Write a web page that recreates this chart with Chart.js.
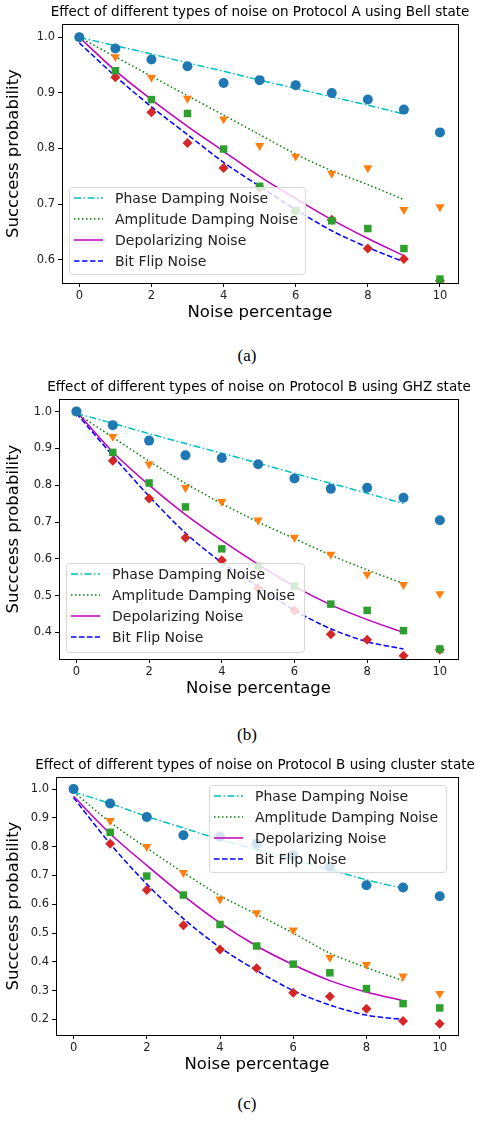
<!DOCTYPE html>
<html><head><meta charset="utf-8">
<script src="https://cdn.jsdelivr.net/npm/chart.js@4/dist/chart.umd.min.js"></script>
<style>
body{margin:0;background:#fff;width:494px;height:1129px;position:relative;overflow:hidden}
canvas{position:absolute;left:0}
.cap{position:absolute;width:494px;text-align:center;font-family:"Liberation Serif",serif;font-size:17px;color:#000}
</style></head><body>
<canvas id="cA" style="top:0"></canvas>
<div class="cap" style="top:346px">(a)</div>
<canvas id="cB" style="top:370px"></canvas>
<div class="cap" style="top:725px">(b)</div>
<canvas id="cC" style="top:745px"></canvas>
<div class="cap" style="top:1094px">(c)</div>
<script>
const noisePoints = [0,1,2,3,4,5,6,7,8,9,10];
const noiseFit = [0,1,2,3,4,5,6,7,8,9];
const seriesNames = ["Phase Damping Noise","Amplitude Damping Noise","Depolarizing Noise","Bit Flip Noise"];

// Chart (a) Protocol A, Bell state
const aPhasePts = [1.0,0.98,0.96,0.948,0.918,0.923,0.914,0.90,0.888,0.87,0.829];
const aAmpPts   = [1.0,0.965,0.928,0.89,0.853,0.805,0.786,0.755,0.765,0.69,0.695];
const aDepPts   = [1.0,0.94,0.888,0.863,0.799,0.732,0.688,0.67,0.656,0.62,0.565];
const aBitPts   = [1.0,0.928,0.865,0.81,0.765,0.73,0.688,0.672,0.62,0.601,0.562];
const aPhaseFit = [1.0,0.985,0.97,0.954,0.939,0.923,0.908,0.893,0.878,0.862];
const aAmpFit   = [1.0,0.965,0.93,0.895,0.86,0.825,0.79,0.76,0.735,0.708];
const aDepFit   = [1.0,0.94,0.888,0.84,0.795,0.75,0.71,0.672,0.638,0.607];
const aBitFit   = [0.99,0.93,0.875,0.825,0.775,0.732,0.69,0.652,0.622,0.596];
const aTicks = [0.6,0.7,0.8,0.9,1.0];

// Chart (b) Protocol B, GHZ state
const bPhasePts = [1.0,0.963,0.921,0.881,0.874,0.857,0.818,0.79,0.793,0.766,0.705];
const bAmpPts   = [1.0,0.932,0.857,0.793,0.755,0.705,0.658,0.612,0.558,0.53,0.505];
const bDepPts   = [1.0,0.889,0.806,0.741,0.627,0.579,0.526,0.477,0.46,0.405,0.355];
const bBitPts   = [1.0,0.866,0.764,0.657,0.596,0.52,0.46,0.395,0.38,0.337,0.353];
const bPhaseFit = [0.995,0.968,0.94,0.913,0.887,0.86,0.832,0.805,0.778,0.75];
const bAmpFit   = [0.995,0.93,0.865,0.805,0.75,0.70,0.655,0.61,0.57,0.533];
const bDepFit   = [1.0,0.89,0.80,0.72,0.65,0.585,0.525,0.475,0.435,0.40];
const bBitFit   = [0.995,0.88,0.77,0.67,0.59,0.525,0.46,0.41,0.375,0.355];
const bTicks = [0.4,0.5,0.6,0.7,0.8,0.9,1.0];

// Chart (c) Protocol B, cluster state
const cPhasePts = [1.0,0.95,0.903,0.84,0.835,0.81,0.77,0.73,0.666,0.658,0.628];
const cAmpPts   = [1.0,0.89,0.80,0.71,0.618,0.57,0.51,0.415,0.39,0.35,0.29];
const cDepPts   = [1.0,0.85,0.698,0.632,0.53,0.455,0.392,0.362,0.307,0.255,0.24];
const cBitPts   = [1.0,0.81,0.65,0.527,0.443,0.378,0.293,0.28,0.237,0.195,0.185];
const cPhaseFit = [0.99,0.95,0.905,0.865,0.825,0.79,0.755,0.72,0.685,0.655];
const cAmpFit   = [0.99,0.885,0.795,0.71,0.63,0.565,0.50,0.43,0.38,0.335];
const cDepFit   = [0.975,0.845,0.735,0.63,0.535,0.455,0.39,0.335,0.295,0.265];
const cBitFit   = [0.97,0.81,0.67,0.55,0.45,0.37,0.30,0.25,0.215,0.20];
const cTicks = [0.2,0.3,0.4,0.5,0.6,0.7,0.8,0.9,1.0];

const FONT = "'DejaVu Sans', sans-serif";
const lineCol = ['#00bfbf','#008000','#bf00bf','#0000ff'];
const lineDash = [[7,2.5,1.5,2.5],[1.5,2.5],[],[5.5,2.5]];
const ptCol = ['#1f77b4','#ff7f0e','#2ca02c','#d62728'];

function xy(xs, ys){ return ys.map((v,i)=>({x:xs[i], y:v})); }

function makeChart(id, cfg){
  const cv = document.getElementById(id);
  cv.width = 494; cv.height = cfg.h; cv.style.width='494px'; cv.style.height=cfg.h+'px';
  const datasets = [];
  cfg.pts.forEach((p,i)=>{
    const st = ['circle','triangle','rect','rectRot'][i];
    datasets.push({type:'scatter', data: xy(noisePoints,p), pointStyle: st,
      rotation: i===1?180:0, radius: i===3?5:(i===0?5:5.3),
      backgroundColor: ptCol[i], borderColor: ptCol[i], borderWidth:0, order: 1});
  });
  cfg.fits.forEach((f,i)=>{
    datasets.push({type:'line', data: xy(noiseFit,f), borderColor: lineCol[i], borderWidth:1.5,
      borderDash: lineDash[i], pointRadius:0, fill:false, tension:0.3, order: 2});
  });
  const framePlugin = {
    id:'frame',
    afterDraw(chart){
      const c = chart.ctx, a = chart.chartArea;
      c.save();
      c.strokeStyle='#000'; c.lineWidth=1; c.setLineDash([]);
      c.strokeRect(a.left+0.5,a.top+0.5,a.right-a.left,a.bottom-a.top);
      c.fillStyle='#000'; c.font='13.5px '+FONT; c.textAlign='center'; c.textBaseline='middle';
      c.fillText(cfg.title, cfg.titleX, cfg.titleY);
      const L = cfg.legend;
      c.globalAlpha=0.8; c.fillStyle='#fff';
      c.beginPath(); c.roundRect(L.x,L.y,L.w,L.h,3); c.fill();
      c.globalAlpha=1; c.strokeStyle='#d8d8d8'; c.lineWidth=1;
      c.beginPath(); c.roundRect(L.x+0.5,L.y+0.5,L.w,L.h,3); c.stroke();
      c.font='14px '+FONT; c.textAlign='left';
      seriesNames.forEach((n,i)=>{
        const yy = L.y + 11 + i*21;
        c.strokeStyle=lineCol[i]; c.lineWidth=1.5; c.setLineDash(lineDash[i]);
        c.beginPath(); c.moveTo(L.x+5,yy); c.lineTo(L.x+34,yy); c.stroke();
        c.setLineDash([]); c.fillStyle='#222';
        c.fillText(n, L.x+46, yy+1);
      });
      c.restore();
    }
  };
  return new Chart(cv, {
    data:{datasets},
    options:{
      responsive:false, animation:false, devicePixelRatio:1,
      layout:{padding:{top:cfg.top, right:36, left:0, bottom:cfg.pb}},
      plugins:{legend:{display:false}, tooltip:{enabled:false}},
      scales:{
        x:{type:'linear', min:-0.48, max:10.5,
          afterBuildTicks(s){ s.ticks=[0,2,4,6,8,10].map(v=>({value:v})); },
          afterFit(s){ s.height = cfg.xh; },
          ticks:{color:'#222', font:{family:FONT,size:11.5}, padding:2, callback:v=>String(v)},
          grid:{drawOnChartArea:false, drawTicks:true, tickLength:4, color:'#000'},
          border:{display:false},
          title:{display:true, text:'Noise percentage', color:'#000', font:{family:FONT,size:16.5}, padding:{top:0,bottom:0}}},
        y:{type:'linear', min:cfg.ymin, max:cfg.ymax,
          afterBuildTicks(s){ s.ticks=cfg.ticks.map(v=>({value:v})); },
          afterFit(s){ s.width = cfg.yw; },
          ticks:{color:'#222', font:{family:FONT,size:11.5}, padding:3, callback:v=>v.toFixed(1)},
          grid:{drawOnChartArea:false, drawTicks:true, tickLength:4, color:'#000'},
          border:{display:false},
          title:{display:true, text:'Succcess probability', color:'#000', font:{family:FONT,size:16.5}, padding:{bottom:2}}}
      }
    },
    plugins:[framePlugin]
  });
}

makeChart('cA',{h:335, top:24, xh:40, pb:12, yw:62, ymin:0.558, ymax:1.024, ticks:aTicks,
  title:'Effect of different types of noise on Protocol A using Bell state', titleX:260, titleY:12,
  pts:[aPhasePts,aAmpPts,aDepPts,aBitPts], fits:[aPhaseFit,aAmpFit,aDepFit,aBitFit],
  legend:{x:69,y:187,w:236,h:87}});
makeChart('cB',{h:340, top:29, xh:40, pb:11, yw:59, ymin:0.328, ymax:1.034, ticks:bTicks,
  title:'Effect of different types of noise on Protocol B using GHZ state', titleX:259, titleY:17,
  pts:[bPhasePts,bAmpPts,bDepPts,bBitPts], fits:[bPhaseFit,bAmpFit,bDepFit,bBitFit],
  legend:{x:66,y:193,w:238,h:89}});
makeChart('cC',{h:340, top:32, xh:40, pb:10, yw:56, ymin:0.146, ymax:1.042, ticks:cTicks,
  title:'Effect of different types of noise on Protocol B using cluster state', titleX:255, titleY:20,
  pts:[cPhasePts,cAmpPts,cDepPts,cBitPts], fits:[cPhaseFit,cAmpFit,cDepFit,cBitFit],
  legend:{x:209,y:40,w:237,h:87}});
</script>
</body></html>
